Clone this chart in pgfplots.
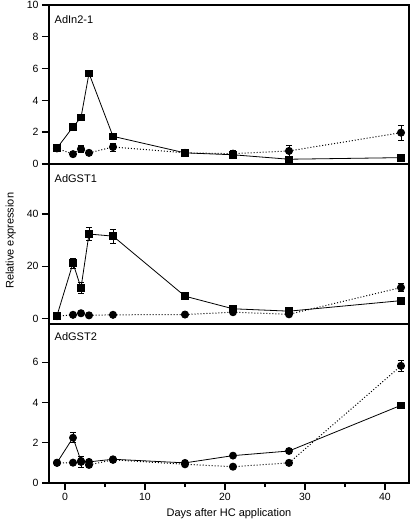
\documentclass[border=0pt]{standalone}
\usepackage{fontspec}
\setmainfont{Liberation Sans}
\usepackage{pgfplots}
\pgfplotsset{compat=1.18}
\pgfplotsset{
  panel/.style={
    scale only axis, width=360pt,
    xmin=-2, xmax=43,
    axis line style={line width=1.5pt},
    tick style={line width=1.4pt, black},
    tick align=outside,
    major tick length=7pt, minor tick length=4pt,
    xtick pos=bottom, ytick pos=left,
    /pgf/number format/assume math mode=true,
    ticklabel style={font=\fontsize{10.5}{12}\selectfont},
    label style={font=\fontsize{11}{13}\selectfont},
    clip=false,
  },
  eb/.style={error bars/y dir=both, error bars/y explicit,
    error bars/error bar style={line width=0.8pt, solid},
    error bars/error mark options={rotate=90, mark size=3pt, line width=0.8pt, solid}},
  sq/.style={black, line width=0.8pt, mark=square*, mark size=3.3pt,
    mark options={solid}, eb},
  ci/.style={black, line width=1pt, dash pattern=on 1pt off 2pt, mark=*, mark size=3.5pt,
    mark options={solid}, eb},
  ci2/.style={black, line width=0.8pt, mark=*, mark size=3.5pt,
    mark options={solid}, eb},
}
\begin{document}
\begin{tikzpicture}
\useasboundingbox (-49pt,-45pt) rectangle (363pt,483pt);
% Panel 1
\begin{axis}[panel, at={(0,319pt)}, anchor=south west, height=159pt,
  ymin=0, ymax=10, ytick={0,2,4,6,8,10}, xtick=\empty]
\node[anchor=west, font=\fontsize{11}{13}\selectfont] at (rel axis cs:0.006,0.91) {AdIn2-1};
\addplot[ci] coordinates {(-1,0.98) +- (0,0.05) (1,0.62) +- (0,0.12) (2,0.94) +- (0,0.22) (3,0.7) +- (0,0.1) (6,1.07) +- (0,0.25) (15,0.7) +- (0,0.06) (21,0.65) +- (0,0.2) (28,0.82) +- (0,0.33) (42,1.97) +- (0,0.46)};
\addplot[sq] coordinates {(-1,1.0) +- (0,0.05) (1,2.33) +- (0,0.12) (2,2.93) +- (0,0.2) (3,5.7) +- (0,0.1) (6,1.74) +- (0,0.1) (15,0.7) +- (0,0.06) (21,0.58) +- (0,0.12) (28,0.3) +- (0,0.05) (42,0.4) +- (0,0.05)};
\end{axis}
% Panel 2
\begin{axis}[panel, at={(0,159pt)}, anchor=south west, height=160pt,
  ymin=-2, ymax=59, ytick={0,20,40}, xtick=\empty,
  ylabel={Relative expression},
  ylabel style={at={(axis description cs:-0.106,0.52)}, anchor=center}]
\node[anchor=west, font=\fontsize{11}{13}\selectfont] at (rel axis cs:0.006,0.906) {AdGST1};
\addplot[ci] coordinates {(-1,1.0) +- (0,0.2) (1,1.5) +- (0,0.3) (2,2.1) +- (0,0.4) (3,1.3) +- (0,0.3) (6,1.5) +- (0,0.3) (15,1.6) +- (0,0.3) (21,2.5) +- (0,0.5) (28,1.7) +- (0,0.6) (42,11.9) +- (0,1.5)};
\addplot[sq] coordinates {(-1,1.2) +- (0,0.2) (1,21.2) +- (0,2.0) (2,11.8) +- (0,2.2) (3,32.3) +- (0,2.5) (6,31.5) +- (0,2.7) (15,8.6) +- (0,0.5) (21,3.8) +- (0,0.8) (28,2.9) +- (0,0.8) (42,6.9) +- (0,0.5)};
\end{axis}
% Panel 3
\begin{axis}[panel, at={(0,0)}, anchor=south west, height=159pt,
  ymin=0, ymax=7.9, ytick={0,2,4,6},
  xtick={0,10,20,30,40}, minor xtick={5,15,25,35},
  xlabel={Days after HC application},
  xlabel style={yshift=-1pt}]
\node[anchor=west, font=\fontsize{11}{13}\selectfont] at (rel axis cs:0.006,0.92) {AdGST2};
\addplot[ci] coordinates {(-1,1.0) +- (0,0.04) (1,1.01) +- (0,0.05) (2,1.05) +- (0,0.25) (3,0.9) +- (0,0.08) (6,1.15) +- (0,0.05) (15,0.93) +- (0,0.05) (21,0.81) +- (0,0.05) (28,1.0) +- (0,0.05) (42,5.82) +- (0,0.28)};
\addplot[ci2, mark indices={1,2,3,4,5,6,7,8}] coordinates {(-1,1.01) +- (0,0.04) (1,2.25) +- (0,0.25) (2,1.1) +- (0,0.1) (3,1.05) +- (0,0.08) (6,1.18) +- (0,0.05) (15,1.0) +- (0,0.05) (21,1.36) +- (0,0.05) (28,1.59) +- (0,0.05) (42,3.86) +- (0,0.1)};
\addplot[black, only marks, mark=square*, mark size=3.3pt] coordinates {(42,3.86)};
\end{axis}
\end{tikzpicture}
\end{document}
